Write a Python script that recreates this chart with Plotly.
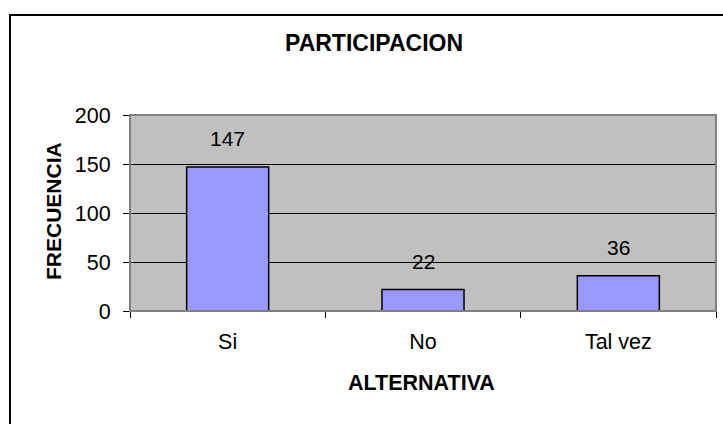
import plotly.graph_objects as go

categories = ["Si", "No", "Tal vez"]
values = [147, 22, 36]
y_ticks = [0, 50, 100, 150, 200]

title_text = "PARTICIPACION"
x_title = "ALTERNATIVA"
y_title = "FRECUENCIA"

FONT = "Liberation Sans, Arial, sans-serif"

# plot area in pixels
L, R, T, B = 130, 716, 115, 311
W, H = 723, 424
pw, ph = R - L, B - T

def px(x):
    return (x - L) / pw

def py(y):
    return (B - y) / ph

fig = go.Figure()
fig.add_trace(go.Bar(
    x=categories, y=values,
    marker=dict(color="#9999FF", line=dict(color="#000000", width=1.5)),
    hoverinfo="skip",
))

annotations = []
for c, v in zip(categories, values):
    annotations.append(dict(x=c, y=v, xref="x", yref="y", text=str(v), showarrow=False,
                            yanchor="middle", yshift=28,
                            font=dict(family=FONT, size=21, color="#000000")))
annotations.append(dict(x=px(374), y=py(43), xref="paper", yref="paper", text="<b>%s</b>" % title_text,
                        showarrow=False, xanchor="center", yanchor="middle",
                        font=dict(family=FONT, size=23, color="#000000")))
annotations.append(dict(x=px(421), y=py(383), xref="paper", yref="paper", text="<b>%s</b>" % x_title,
                        showarrow=False, xanchor="center", yanchor="middle",
                        font=dict(family=FONT, size=21.5, color="#000000")))
annotations.append(dict(x=px(53), y=py(211), xref="paper", yref="paper", text="<b>%s</b>" % y_title,
                        showarrow=False, xanchor="center", yanchor="middle", textangle=-90,
                        font=dict(family=FONT, size=21, color="#000000")))

shapes = [
    # outer chart frame (left and top visible)
    dict(type="rect", xref="paper", yref="paper", x0=px(10), x1=px(740), y0=py(440), y1=py(15),
         line=dict(color="#000000", width=2), fillcolor="rgba(0,0,0,0)", layer="below"),
    # plot area border
    dict(type="rect", xref="paper", yref="paper", x0=0, x1=1, y0=0, y1=1,
         line=dict(color="#808080", width=2), fillcolor="rgba(0,0,0,0)", layer="above"),
]

fig.update_layout(
    width=W, height=H,
    margin=dict(l=L, r=W - R, t=T, b=H - B, pad=0),
    paper_bgcolor="#FFFFFF", plot_bgcolor="#C0C0C0",
    bargap=0.58, showlegend=False,
    annotations=annotations, shapes=shapes,
    font=dict(family=FONT, size=21, color="#000000"),
)
fig.update_xaxes(
    showline=True, linecolor="#000000", linewidth=1, mirror=False,
    ticks="outside", tickson="boundaries", ticklen=6, tickcolor="#000000", tickwidth=1,
    showgrid=False, tickfont=dict(family=FONT, size=21.5, color="#000000"),
    ticklabelstandoff=11,
)
fig.update_yaxes(
    range=[0, 200], tickvals=y_ticks, showline=True, linecolor="#000000", linewidth=1,
    ticks="outside", ticklen=6, tickcolor="#000000", tickwidth=1,
    showgrid=True, gridcolor="#000000", gridwidth=1, zeroline=False,
    tickfont=dict(family=FONT, size=21.5, color="#000000"), ticklabelstandoff=8,
)

fig.write_html("out.html", config={"displayModeBar": False},
               post_script="document.body.style.margin='0px';document.body.style.padding='0px';")
